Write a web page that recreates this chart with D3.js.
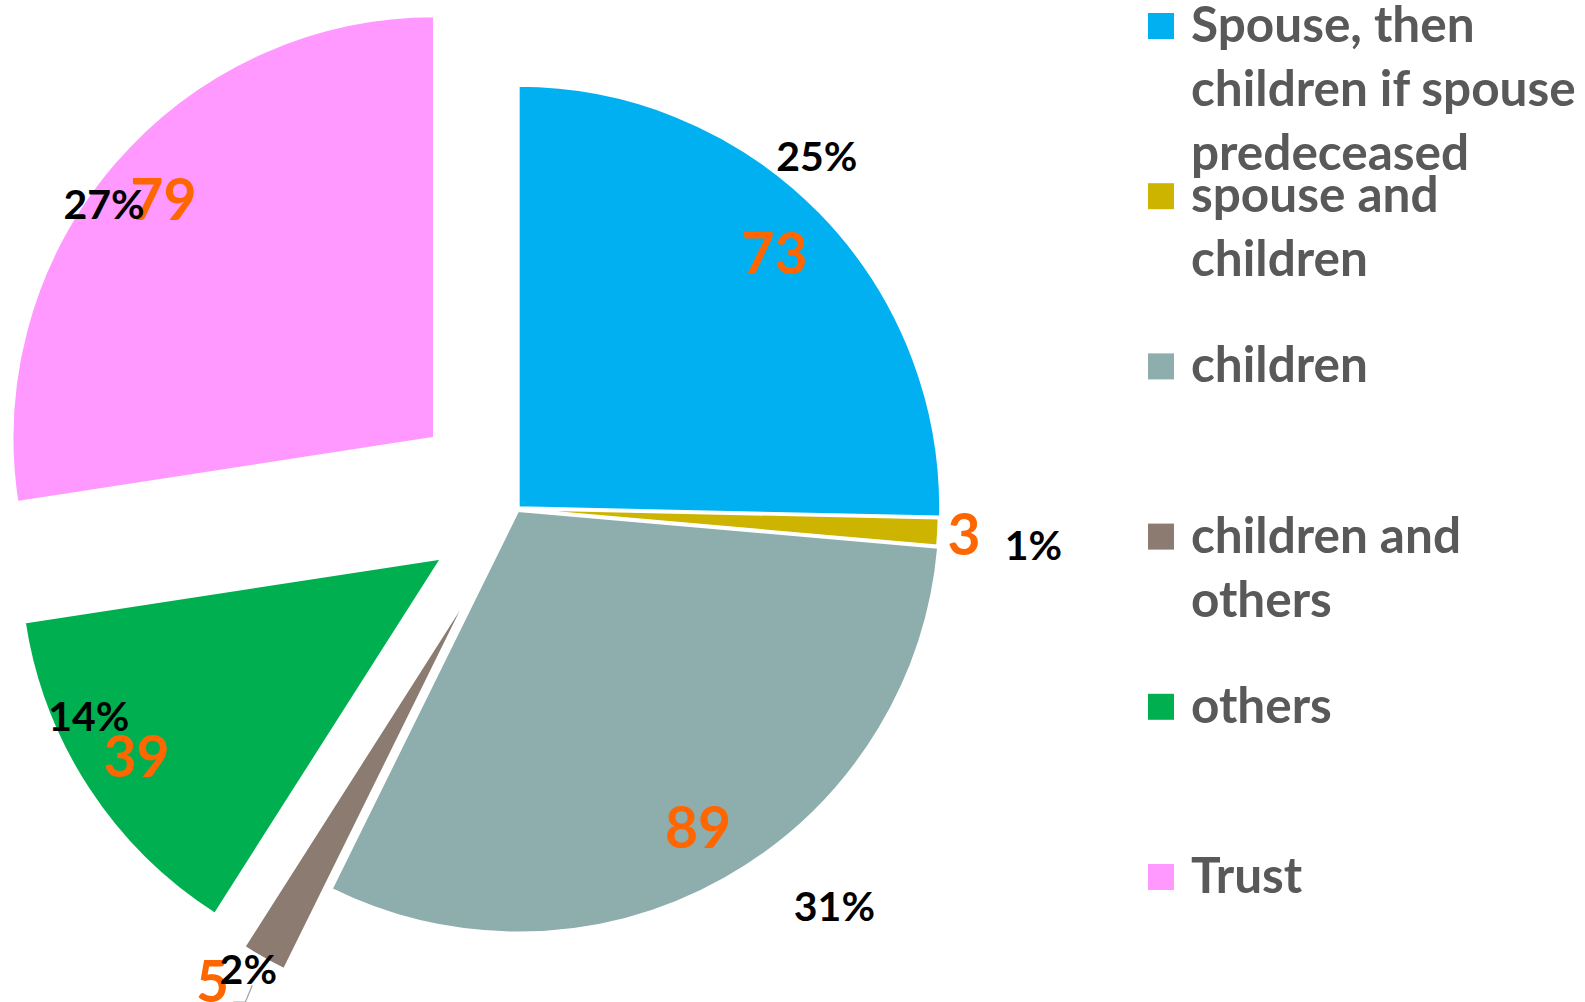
<!DOCTYPE html>
<html>
<head>
<meta charset="utf-8">
<script src="https://cdn.jsdelivr.net/npm/d3@7"></script>
<style>
  html, body { margin: 0; padding: 0; background: #fff; }
  svg { display: block; }
</style>
</head>
<body>
<svg id="chart" width="1585" height="1002"></svg>
<script>
// ---- data ----
const categories = [
  "Spouse, then children if spouse predeceased",
  "spouse and children",
  "children",
  "children and others",
  "others",
  "Trust"
];
const values = [73, 3, 89, 5, 39, 79];
const colors = ["#00B0F0", "#CCB400", "#8EADAD", "#8B7B70", "#00B050", "#FF99FF"];

// ---- layout (geometry / styling, not data) ----
const W = 1585, H = 1002;
const cx = 517, cy = 509, R = 422;
// explosion distance of each slice along its mid angle (px)
const explode = [2, 0, 2, 94, 90, 109];
// label placement, polar relative to each slice: [radius factor, angle shift in degrees]
const valuePlace   = [[0.855, -0.4], [1.061, 0.2], [0.864, -0.2], [1.11, 4.1], [0.862, 0.1], [0.856, 0.8]];
const percentPlace = [[1.093, -5.3], [1.227, 0.9], [1.20, -9.3], [1.04, 1.1], [0.916, 9.0], [0.959, -5.3]];

const svg = d3.select("#chart");
const total = d3.sum(values);
const pct = d3.format(".0%");

const pie = d3.pie().sort(null).value(d => d)(values);
const arc = d3.arc().innerRadius(0).outerRadius(R);

function mid(d) { return (d.startAngle + d.endAngle) / 2; }
function sliceCenter(d, i) {
  const a = mid(d);
  return [cx + explode[i] * Math.sin(a), cy - explode[i] * Math.cos(a)];
}
function polar(d, i, place) {
  const c = sliceCenter(d, i);
  const a = mid(d) + place[i][1] * Math.PI / 180;
  const r = place[i][0] * R;
  return [c[0] + r * Math.sin(a), c[1] - r * Math.cos(a)];
}

const gPie = svg.append("g");
gPie.selectAll("path.slice")
  .data(pie)
  .join("path")
  .attr("class", "slice")
  .attr("transform", (d, i) => `translate(${sliceCenter(d, i)})`)
  .attr("d", arc)
  .attr("fill", (d, i) => colors[i])
  .attr("stroke", "#fff")
  .attr("stroke-width", 2.5)
  .attr("stroke-linejoin", "miter");

// leader line for the tiny "children and others" slice
{
  const i = 3, d = pie[i];
  const p = polar(d, i, percentPlace);
  gPie.append("path")
    .attr("d", `M${p[0] + 4},${p[1] + 16} L${p[0] - 3},${p[1] + 33} L${p[0] - 15},${p[1] + 33}`)
    .attr("fill", "none")
    .attr("stroke", "#A6A6A6")
    .attr("stroke-width", 1.3);
}

const fontFam = "Lato, 'Open Sans', 'DejaVu Sans', sans-serif";

// value labels (orange)
svg.append("g").selectAll("text")
  .data(pie)
  .join("text")
  .attr("x", (d, i) => polar(d, i, valuePlace)[0])
  .attr("y", (d, i) => polar(d, i, valuePlace)[1])
  .attr("dy", "0.36em")
  .attr("text-anchor", "middle")
  .attr("font-family", fontFam)
  .attr("font-weight", 700)
  .attr("font-size", 57)
  .attr("fill", "#FF6600")
  .text(d => d.data);

// percentage labels (black)
svg.append("g").selectAll("text")
  .data(pie)
  .join("text")
  .attr("x", (d, i) => polar(d, i, percentPlace)[0])
  .attr("y", (d, i) => polar(d, i, percentPlace)[1])
  .attr("dy", "0.36em")
  .attr("text-anchor", "middle")
  .attr("font-family", fontFam)
  .attr("font-weight", 700)
  .attr("font-size", 41)
  .attr("fill", "#000")
  .text(d => pct(d.data / total));

// ---- legend ----
const legX = 1148, legTextX = 1191, legTop = 42, legStep = 170.2, lineH = 64, sq = 26;
const legFont = 49.5, maxW = 394;
const legend = svg.append("g");

const measurer = svg.append("text")
  .attr("font-family", fontFam).attr("font-weight", 700).attr("font-size", legFont)
  .attr("visibility", "hidden");
function wrap(str) {
  const words = str.split(" ");
  const lines = [];
  let cur = "";
  words.forEach(w => {
    const test = cur ? cur + " " + w : w;
    measurer.text(test);
    if (measurer.node().getComputedTextLength() > maxW && cur) {
      lines.push(cur);
      cur = w;
    } else {
      cur = test;
    }
  });
  if (cur) lines.push(cur);
  return lines;
}

categories.forEach((name, i) => {
  const y = legTop + i * legStep;
  legend.append("rect")
    .attr("x", legX).attr("y", y - 29)
    .attr("width", sq).attr("height", sq)
    .attr("fill", colors[i]);
  const t = legend.append("text")
    .attr("x", legTextX).attr("y", y)
    .attr("font-family", fontFam)
    .attr("font-weight", 700)
    .attr("font-size", legFont)
    .attr("fill", "#595959");
  wrap(name).forEach((ln, k) => {
    t.append("tspan").attr("x", legTextX).attr("y", y + k * lineH).text(ln);
  });
});
measurer.remove();
</script>
</body>
</html>
